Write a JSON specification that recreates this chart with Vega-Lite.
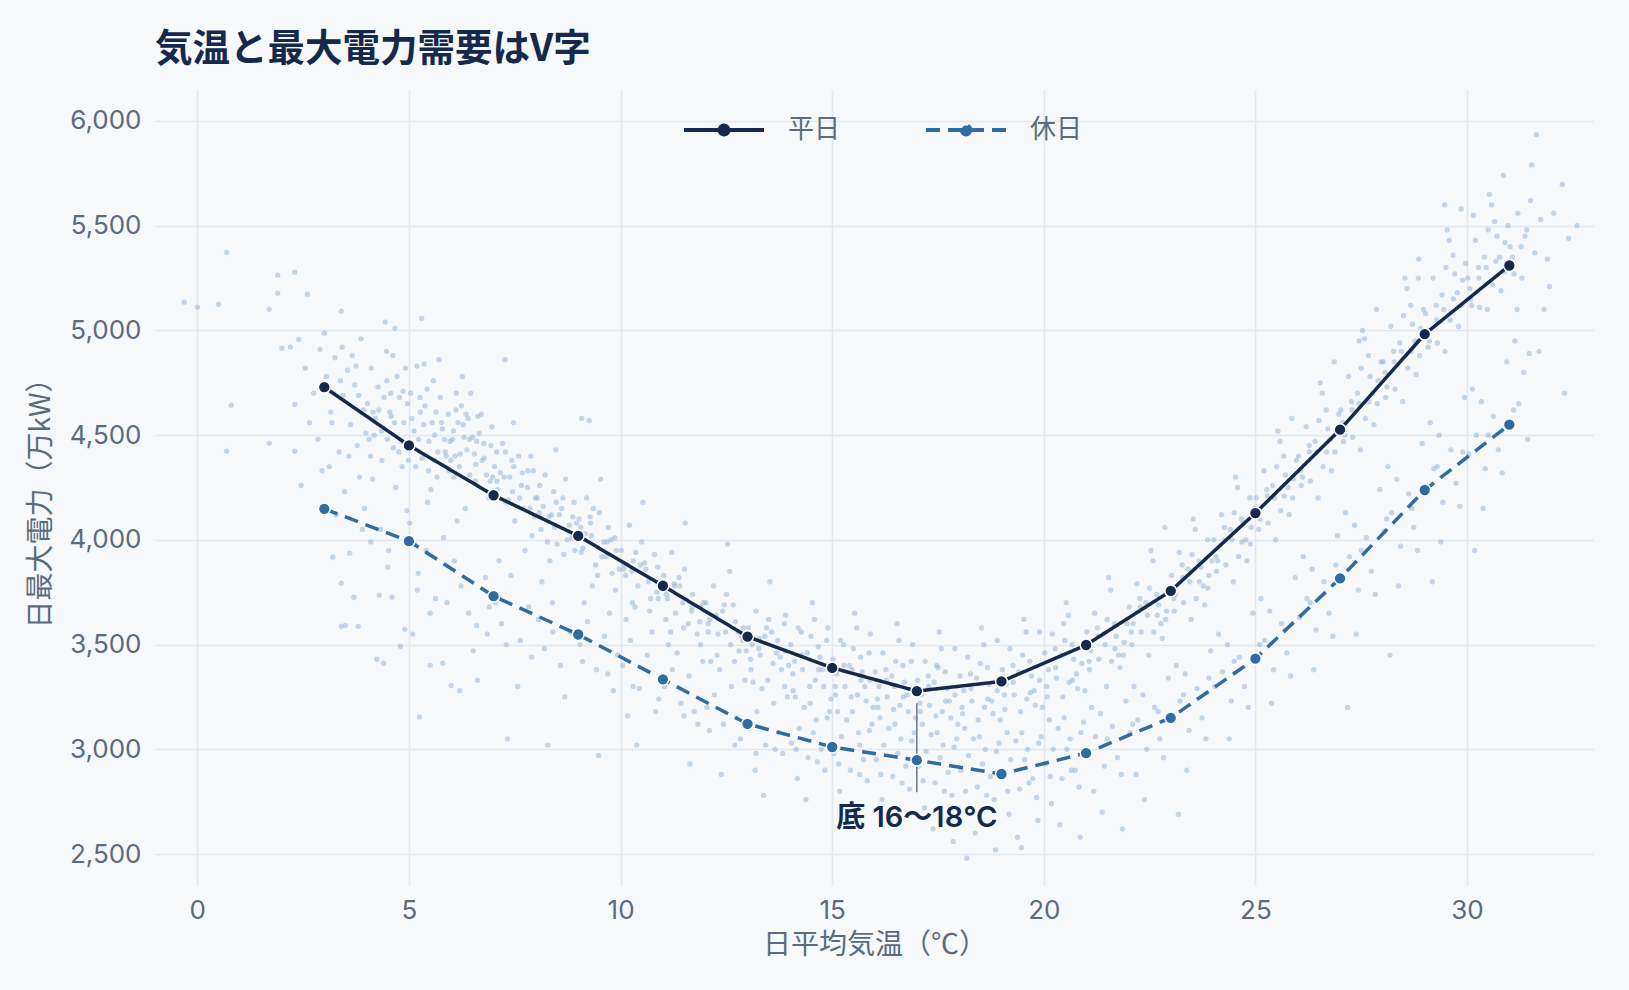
{
"$schema":"https://vega.github.io/schema/vega-lite/v6.json",
"width":1439,"height":795,
"autosize":{"type":"none"},
"padding":{"left":155,"top":90,"right":35,"bottom":105},
"background":"#f6f8fa",
"title":{"text":"気温と最大電力需要はV字","anchor":"start","frame":"group","fontSize":37.5,"fontWeight":"bold","font":"Noto Sans CJK JP","color":"#14294b","offset":20},
"config":{
"view":{"stroke":null},
"font":"Noto Sans CJK JP",
"axis":{"domain":false,"ticks":false,"gridColor":"#e4e8ee","gridWidth":1.5,"labelColor":"#5b6b7d","titleColor":"#5b6b7d","labelFontSize":26,"titleFontSize":28,"titleFontWeight":"normal","labelFont":"Inter","titleFont":"Noto Sans CJK JP"}
},
"datasets":{
"scatter":[
{"t":-0.31,"v":5135},{"t":0.0,"v":5111},{"t":0.5,"v":5125},{"t":0.69,"v":5373},{"t":0.8,"v":4643},{"t":0.69,"v":4423},{"t":1.7,"v":5101},{"t":1.9,"v":5264},{"t":1.9,"v":5178},{"t":2.3,"v":5278},{"t":2.6,"v":5173},{"t":1.7,"v":4461},{"t":2.3,"v":4647},{"t":2.3,"v":4423},{"t":2.0,"v":4915},{"t":2.2,"v":4920},{"t":2.4,"v":4957},{"t":2.55,"v":4820},{"t":2.75,"v":4700},{"t":2.85,"v":4480},{"t":2.45,"v":4260},{"t":2.9,"v":4910},{"t":2.65,"v":4560},{"t":2.95,"v":4330},
{"t":3.0,"v":4987},{"t":3.4,"v":5092},{"t":3.4,"v":3793},{"t":3.2,"v":3917},{"t":3.4,"v":3587},{"t":3.5,"v":3592},{"t":3.8,"v":3587},{"t":3.6,"v":3936},{"t":3.7,"v":3726},{"t":3.05,"v":4780},{"t":3.15,"v":4610},{"t":3.25,"v":4870},{"t":3.35,"v":4420},{"t":3.45,"v":4690},{"t":3.55,"v":4810},{"t":3.62,"v":4550},{"t":3.72,"v":4740},{"t":3.83,"v":4300},{"t":3.93,"v":4620},{"t":3.12,"v":4350},{"t":3.87,"v":4960},{"t":3.28,"v":4120},{"t":3.66,"v":4880},{"t":3.48,"v":4230},{"t":3.78,"v":4450},{"t":3.95,"v":4150},{"t":3.22,"v":4700},
{"t":4.44,"v":5040},{"t":4.3,"v":3735},{"t":4.6,"v":3726},{"t":4.8,"v":3492},{"t":4.4,"v":3411},{"t":4.9,"v":3573},{"t":4.02,"v":4650},{"t":4.11,"v":4820},{"t":4.18,"v":4500},{"t":4.27,"v":4730},{"t":4.36,"v":4380},{"t":4.47,"v":4900},{"t":4.55,"v":4610},{"t":4.63,"v":4440},{"t":4.72,"v":4780},{"t":4.88,"v":4560},{"t":4.14,"v":4290},{"t":4.33,"v":4050},{"t":4.52,"v":3950},{"t":4.95,"v":4140},{"t":4.24,"v":3430},{"t":4.41,"v":4680},{"t":4.67,"v":5010},{"t":4.84,"v":4350},{"t":4.06,"v":4480},{"t":4.58,"v":4590},{"t":4.78,"v":4680},{"t":4.92,"v":4820},{"t":4.21,"v":4580},{"t":4.69,"v":4250},{"t":4.48,"v":4760},{"t":4.82,"v":4470},
{"t":5.3,"v":5058},{"t":5.8,"v":3411},{"t":5.5,"v":3401},{"t":5.25,"v":3155},{"t":5.04,"v":4700},{"t":5.12,"v":4520},{"t":5.19,"v":4830},{"t":5.31,"v":4390},{"t":5.38,"v":4640},{"t":5.47,"v":4470},{"t":5.58,"v":4760},{"t":5.66,"v":4300},{"t":5.77,"v":4560},{"t":5.86,"v":4420},{"t":5.02,"v":4080},{"t":5.22,"v":3840},{"t":5.41,"v":3950},{"t":5.63,"v":3720},{"t":5.82,"v":4010},{"t":5.09,"v":3550},{"t":5.52,"v":4240},{"t":5.71,"v":4860},{"t":5.93,"v":4600},{"t":5.44,"v":4180},{"t":5.16,"v":4350},{"t":5.61,"v":4500},{"t":5.27,"v":4610},{"t":5.74,"v":4680},{"t":5.35,"v":4550},{"t":5.88,"v":4400},{"t":5.55,"v":4560},{"t":5.97,"v":4470},{"t":5.68,"v":4420},{"t":5.13,"v":3980},
{"t":6.0,"v":3304},{"t":6.2,"v":3280},{"t":6.03,"v":4480},{"t":6.11,"v":4620},{"t":6.19,"v":4350},{"t":6.28,"v":4550},{"t":6.37,"v":4430},{"t":6.46,"v":4700},{"t":6.57,"v":4280},{"t":6.66,"v":4510},{"t":6.78,"v":4390},{"t":6.89,"v":4200},{"t":6.07,"v":3900},{"t":6.23,"v":3780},{"t":6.41,"v":3650},{"t":6.62,"v":3330},{"t":6.81,"v":3820},{"t":6.14,"v":4090},{"t":6.33,"v":4150},{"t":6.52,"v":3470},{"t":6.71,"v":4600},{"t":6.94,"v":4450},{"t":6.26,"v":4780},{"t":6.44,"v":4310},{"t":6.6,"v":4470},{"t":6.85,"v":3550},{"t":6.16,"v":4560},{"t":6.5,"v":4490},{"t":6.73,"v":4380},{"t":6.35,"v":4600},{"t":6.09,"v":4400},{"t":6.55,"v":4410},{"t":6.98,"v":4300},{"t":6.3,"v":4490},
{"t":7.02,"v":4350},{"t":7.1,"v":4240},{"t":7.21,"v":4460},{"t":7.29,"v":4180},{"t":7.38,"v":4300},{"t":7.5,"v":4090},{"t":7.59,"v":4400},{"t":7.7,"v":4150},{"t":7.8,"v":4250},{"t":7.91,"v":4020},{"t":7.05,"v":3700},{"t":7.19,"v":3600},{"t":7.41,"v":3830},{"t":7.63,"v":3520},{"t":7.83,"v":3680},{"t":7.13,"v":3900},{"t":7.33,"v":3050},{"t":7.47,"v":4560},{"t":7.74,"v":3950},{"t":7.94,"v":4330},{"t":7.27,"v":4860},{"t":7.57,"v":3300},{"t":7.36,"v":4190},{"t":7.66,"v":4260},{"t":7.86,"v":4150},{"t":7.16,"v":4320},{"t":7.45,"v":4230},{"t":7.97,"v":4110},
{"t":8.03,"v":4200},{"t":8.12,"v":4050},{"t":8.22,"v":4310},{"t":8.31,"v":4110},{"t":8.42,"v":4230},{"t":8.5,"v":3980},{"t":8.61,"v":4150},{"t":8.7,"v":4290},{"t":8.79,"v":4070},{"t":8.92,"v":3950},{"t":8.06,"v":3620},{"t":8.2,"v":3480},{"t":8.39,"v":3700},{"t":8.58,"v":3400},{"t":8.81,"v":3560},{"t":8.14,"v":3800},{"t":8.33,"v":3900},{"t":8.47,"v":4430},{"t":8.68,"v":3250},{"t":8.9,"v":4180},{"t":8.28,"v":3020},{"t":8.55,"v":4120},{"t":8.74,"v":4000},{"t":8.96,"v":4080},{"t":8.17,"v":4160},{"t":8.44,"v":4060},
{"t":9.02,"v":4100},{"t":9.11,"v":3960},{"t":9.2,"v":4200},{"t":9.31,"v":4020},{"t":9.41,"v":3880},{"t":9.5,"v":4130},{"t":9.6,"v":3990},{"t":9.71,"v":4060},{"t":9.8,"v":3840},{"t":9.9,"v":3950},{"t":9.04,"v":3500},{"t":9.22,"v":3610},{"t":9.43,"v":3380},{"t":9.62,"v":3540},{"t":9.83,"v":3280},{"t":9.14,"v":3700},{"t":9.33,"v":3780},{"t":9.53,"v":4290},{"t":9.74,"v":3650},{"t":9.93,"v":3450},{"t":9.08,"v":4580},{"t":9.26,"v":4570},{"t":9.48,"v":2970},{"t":9.36,"v":4150},{"t":9.66,"v":3920},{"t":9.86,"v":4010},{"t":9.17,"v":4030},
{"t":10.02,"v":3950},{"t":10.12,"v":3830},{"t":10.21,"v":4070},{"t":10.3,"v":3900},{"t":10.41,"v":3780},{"t":10.5,"v":3990},{"t":10.6,"v":3860},{"t":10.71,"v":3720},{"t":10.8,"v":3930},{"t":10.9,"v":3800},{"t":10.05,"v":3400},{"t":10.23,"v":3520},{"t":10.44,"v":3290},{"t":10.63,"v":3450},{"t":10.83,"v":3180},{"t":10.13,"v":3620},{"t":10.34,"v":3680},{"t":10.53,"v":4180},{"t":10.74,"v":3560},{"t":10.94,"v":3350},{"t":10.38,"v":3020},{"t":10.17,"v":3160},{"t":10.57,"v":3890},{"t":10.86,"v":3750},{"t":10.27,"v":3850},
{"t":11.02,"v":3830},{"t":11.11,"v":3720},{"t":11.21,"v":3940},{"t":11.3,"v":3650},{"t":11.4,"v":3780},{"t":11.51,"v":3860},{"t":11.6,"v":3600},{"t":11.7,"v":3740},{"t":11.81,"v":3550},{"t":11.9,"v":3680},{"t":11.04,"v":3300},{"t":11.22,"v":3380},{"t":11.43,"v":3220},{"t":11.62,"v":3350},{"t":11.83,"v":3120},{"t":11.13,"v":3500},{"t":11.34,"v":3460},{"t":11.53,"v":4080},{"t":11.74,"v":3180},{"t":11.94,"v":3420},{"t":11.18,"v":3560},{"t":11.64,"v":2930},{"t":11.47,"v":3700},{"t":11.87,"v":3610},{"t":11.27,"v":3790},
{"t":12.02,"v":3700},{"t":12.11,"v":3620},{"t":12.2,"v":3780},{"t":12.3,"v":3550},{"t":12.41,"v":3660},{"t":12.5,"v":3740},{"t":12.6,"v":3500},{"t":12.71,"v":3610},{"t":12.8,"v":3470},{"t":12.9,"v":3580},{"t":12.04,"v":3200},{"t":12.22,"v":3260},{"t":12.43,"v":3120},{"t":12.62,"v":3300},{"t":12.83,"v":3050},{"t":12.13,"v":3420},{"t":12.34,"v":3380},{"t":12.53,"v":3980},{"t":12.74,"v":3150},{"t":12.94,"v":3330},{"t":12.38,"v":2880},{"t":12.58,"v":3850},{"t":12.26,"v":3640},{"t":12.86,"v":3540},{"t":12.66,"v":3690},
{"t":13.02,"v":3580},{"t":13.11,"v":3500},{"t":13.2,"v":3660},{"t":13.3,"v":3450},{"t":13.41,"v":3540},{"t":13.5,"v":3620},{"t":13.6,"v":3410},{"t":13.71,"v":3520},{"t":13.8,"v":3380},{"t":13.9,"v":3470},{"t":13.04,"v":3100},{"t":13.22,"v":3180},{"t":13.43,"v":3020},{"t":13.62,"v":3220},{"t":13.83,"v":2980},{"t":13.13,"v":3320},{"t":13.34,"v":3290},{"t":13.53,"v":3800},{"t":13.74,"v":3080},{"t":13.94,"v":3250},{"t":13.38,"v":2780},{"t":13.18,"v":2900},{"t":13.57,"v":3560},{"t":13.87,"v":3600},{"t":13.27,"v":3480},
{"t":14.02,"v":3500},{"t":14.11,"v":3420},{"t":14.2,"v":3580},{"t":14.3,"v":3380},{"t":14.41,"v":3460},{"t":14.5,"v":3540},{"t":14.6,"v":3330},{"t":14.71,"v":3440},{"t":14.8,"v":3300},{"t":14.9,"v":3400},{"t":14.04,"v":3030},{"t":14.22,"v":3100},{"t":14.43,"v":2960},{"t":14.62,"v":3140},{"t":14.83,"v":2900},{"t":14.13,"v":3250},{"t":14.34,"v":3200},{"t":14.53,"v":3700},{"t":14.74,"v":3000},{"t":14.94,"v":3180},{"t":14.38,"v":2760},{"t":14.58,"v":3620},{"t":14.18,"v":2860},{"t":14.67,"v":3490},{"t":14.87,"v":3520},{"t":14.27,"v":3560},
{"t":15.02,"v":3430},{"t":15.11,"v":3360},{"t":15.2,"v":3520},{"t":15.3,"v":3300},{"t":15.41,"v":3400},{"t":15.5,"v":3480},{"t":15.6,"v":3260},{"t":15.71,"v":3370},{"t":15.8,"v":3230},{"t":15.9,"v":3330},{"t":15.04,"v":2980},{"t":15.22,"v":3060},{"t":15.43,"v":2900},{"t":15.62,"v":3080},{"t":15.83,"v":2850},{"t":15.13,"v":3180},{"t":15.34,"v":3140},{"t":15.53,"v":3650},{"t":15.74,"v":2950},{"t":15.94,"v":3120},{"t":15.38,"v":2700},{"t":15.58,"v":3580},{"t":15.18,"v":2800},{"t":15.67,"v":3440},{"t":15.87,"v":3460},{"t":15.27,"v":3500},{"t":15.47,"v":3380},
{"t":16.02,"v":3370},{"t":16.11,"v":3300},{"t":16.2,"v":3460},{"t":16.3,"v":3250},{"t":16.41,"v":3350},{"t":16.5,"v":3420},{"t":16.6,"v":3210},{"t":16.71,"v":3320},{"t":16.8,"v":3180},{"t":16.9,"v":3290},{"t":16.04,"v":2950},{"t":16.22,"v":3020},{"t":16.43,"v":2870},{"t":16.62,"v":3050},{"t":16.83,"v":2810},{"t":16.13,"v":3150},{"t":16.34,"v":3100},{"t":16.53,"v":3600},{"t":16.74,"v":2920},{"t":16.94,"v":3080},{"t":16.38,"v":2650},{"t":16.58,"v":3520},{"t":16.18,"v":2760},{"t":16.67,"v":3400},{"t":16.87,"v":3420},{"t":16.27,"v":3380},{"t":16.47,"v":3300},
{"t":17.02,"v":3330},{"t":17.11,"v":3260},{"t":17.2,"v":3420},{"t":17.3,"v":3210},{"t":17.41,"v":3320},{"t":17.5,"v":3390},{"t":17.6,"v":3180},{"t":17.71,"v":3290},{"t":17.8,"v":3150},{"t":17.9,"v":3260},{"t":17.04,"v":2920},{"t":17.22,"v":2990},{"t":17.43,"v":2840},{"t":17.62,"v":3020},{"t":17.83,"v":2780},{"t":17.13,"v":3120},{"t":17.34,"v":3070},{"t":17.53,"v":3560},{"t":17.74,"v":2890},{"t":17.94,"v":3050},{"t":17.38,"v":2620},{"t":17.58,"v":3480},{"t":17.86,"v":2560},{"t":17.18,"v":2720},{"t":17.67,"v":3370},{"t":17.47,"v":3400},{"t":17.27,"v":3350},
{"t":18.02,"v":3350},{"t":18.11,"v":3280},{"t":18.2,"v":3440},{"t":18.3,"v":3230},{"t":18.41,"v":3340},{"t":18.5,"v":3410},{"t":18.6,"v":3200},{"t":18.71,"v":3310},{"t":18.8,"v":3170},{"t":18.9,"v":3280},{"t":18.04,"v":2900},{"t":18.22,"v":2970},{"t":18.43,"v":2820},{"t":18.62,"v":3000},{"t":18.83,"v":2760},{"t":18.13,"v":3100},{"t":18.34,"v":3050},{"t":18.53,"v":3580},{"t":18.74,"v":2870},{"t":18.94,"v":3030},{"t":18.38,"v":2600},{"t":18.58,"v":3500},{"t":18.86,"v":2520},{"t":18.18,"v":2480},{"t":18.48,"v":2680},{"t":18.67,"v":3390},{"t":18.27,"v":3360},
{"t":19.02,"v":3380},{"t":19.11,"v":3310},{"t":19.2,"v":3480},{"t":19.3,"v":3260},{"t":19.41,"v":3370},{"t":19.5,"v":3450},{"t":19.6,"v":3240},{"t":19.71,"v":3350},{"t":19.8,"v":3210},{"t":19.9,"v":3330},{"t":19.04,"v":2880},{"t":19.22,"v":2950},{"t":19.43,"v":2810},{"t":19.62,"v":3000},{"t":19.83,"v":2770},{"t":19.13,"v":3080},{"t":19.34,"v":3040},{"t":19.53,"v":3620},{"t":19.74,"v":2860},{"t":19.94,"v":3060},{"t":19.38,"v":2580},{"t":19.58,"v":3560},{"t":19.18,"v":2690},{"t":19.86,"v":2660},{"t":19.67,"v":3420},{"t":19.27,"v":3400},{"t":19.47,"v":2530},
{"t":20.02,"v":3460},{"t":20.11,"v":3380},{"t":20.2,"v":3550},{"t":20.3,"v":3340},{"t":20.41,"v":3450},{"t":20.5,"v":3520},{"t":20.6,"v":3320},{"t":20.71,"v":3430},{"t":20.8,"v":3290},{"t":20.9,"v":3410},{"t":20.04,"v":2930},{"t":20.22,"v":3000},{"t":20.43,"v":2860},{"t":20.62,"v":3050},{"t":20.83,"v":2820},{"t":20.13,"v":3140},{"t":20.34,"v":3100},{"t":20.53,"v":3700},{"t":20.74,"v":2900},{"t":20.94,"v":3130},{"t":20.38,"v":2640},{"t":20.58,"v":3640},{"t":20.18,"v":2740},{"t":20.86,"v":2580},{"t":20.67,"v":3500},{"t":20.27,"v":3480},{"t":20.47,"v":3600},
{"t":21.02,"v":3560},{"t":21.11,"v":3470},{"t":21.2,"v":3650},{"t":21.3,"v":3430},{"t":21.41,"v":3550},{"t":21.5,"v":3620},{"t":21.6,"v":3420},{"t":21.71,"v":3540},{"t":21.8,"v":3390},{"t":21.9,"v":3510},{"t":21.04,"v":2990},{"t":21.22,"v":3060},{"t":21.43,"v":2920},{"t":21.62,"v":3110},{"t":21.83,"v":2880},{"t":21.13,"v":3200},{"t":21.34,"v":3170},{"t":21.53,"v":3820},{"t":21.74,"v":2960},{"t":21.94,"v":3230},{"t":21.38,"v":2700},{"t":21.58,"v":3760},{"t":21.18,"v":2800},{"t":21.86,"v":2620},{"t":21.67,"v":3600},{"t":21.27,"v":3580},
{"t":22.02,"v":3680},{"t":22.11,"v":3600},{"t":22.2,"v":3790},{"t":22.3,"v":3560},{"t":22.41,"v":3700},{"t":22.5,"v":3770},{"t":22.6,"v":3560},{"t":22.71,"v":3690},{"t":22.8,"v":3530},{"t":22.9,"v":3660},{"t":22.04,"v":3080},{"t":22.22,"v":3140},{"t":22.43,"v":3000},{"t":22.62,"v":3200},{"t":22.83,"v":2960},{"t":22.13,"v":3300},{"t":22.34,"v":3260},{"t":22.53,"v":3950},{"t":22.74,"v":3050},{"t":22.94,"v":3340},{"t":22.38,"v":2760},{"t":22.58,"v":3900},{"t":22.18,"v":2880},{"t":22.86,"v":4060},{"t":22.67,"v":3740},{"t":22.27,"v":3720},
{"t":23.02,"v":3830},{"t":23.11,"v":3740},{"t":23.2,"v":3940},{"t":23.3,"v":3700},{"t":23.41,"v":3860},{"t":23.5,"v":3930},{"t":23.6,"v":3720},{"t":23.71,"v":3870},{"t":23.8,"v":3690},{"t":23.9,"v":3830},{"t":23.04,"v":3160},{"t":23.22,"v":3230},{"t":23.43,"v":3090},{"t":23.62,"v":3290},{"t":23.83,"v":3050},{"t":23.13,"v":3400},{"t":23.34,"v":3360},{"t":23.53,"v":4100},{"t":23.74,"v":3150},{"t":23.94,"v":3470},{"t":23.38,"v":2900},{"t":23.58,"v":4050},{"t":23.18,"v":2690},{"t":23.67,"v":3900},{"t":23.27,"v":3880},{"t":23.87,"v":4000},
{"t":24.02,"v":4000},{"t":24.11,"v":3900},{"t":24.2,"v":4120},{"t":24.3,"v":3880},{"t":24.41,"v":4050},{"t":24.5,"v":4130},{"t":24.6,"v":3920},{"t":24.71,"v":4080},{"t":24.8,"v":3900},{"t":24.9,"v":4060},{"t":24.04,"v":3300},{"t":24.22,"v":3370},{"t":24.43,"v":3230},{"t":24.62,"v":3440},{"t":24.83,"v":3200},{"t":24.13,"v":3550},{"t":24.34,"v":3500},{"t":24.53,"v":4300},{"t":24.74,"v":3300},{"t":24.94,"v":3650},{"t":24.38,"v":3050},{"t":24.58,"v":4250},{"t":24.67,"v":4100},{"t":24.27,"v":4060},{"t":24.87,"v":4200},
{"t":25.02,"v":4200},{"t":25.11,"v":4100},{"t":25.2,"v":4330},{"t":25.3,"v":4080},{"t":25.41,"v":4260},{"t":25.5,"v":4350},{"t":25.6,"v":4140},{"t":25.71,"v":4310},{"t":25.8,"v":4120},{"t":25.9,"v":4290},{"t":25.04,"v":3440},{"t":25.22,"v":3520},{"t":25.43,"v":3380},{"t":25.62,"v":3600},{"t":25.83,"v":3350},{"t":25.13,"v":3720},{"t":25.34,"v":3660},{"t":25.53,"v":4520},{"t":25.74,"v":3460},{"t":25.94,"v":3820},{"t":25.38,"v":3220},{"t":25.58,"v":4470},{"t":25.86,"v":4580},{"t":25.27,"v":4240},{"t":25.67,"v":4400},
{"t":26.02,"v":4400},{"t":26.11,"v":4300},{"t":26.2,"v":4540},{"t":26.3,"v":4280},{"t":26.41,"v":4470},{"t":26.5,"v":4570},{"t":26.6,"v":4350},{"t":26.71,"v":4530},{"t":26.8,"v":4330},{"t":26.9,"v":4510},{"t":26.04,"v":3630},{"t":26.22,"v":3720},{"t":26.43,"v":3570},{"t":26.62,"v":3800},{"t":26.83,"v":3540},{"t":26.13,"v":3920},{"t":26.34,"v":3860},{"t":26.53,"v":4750},{"t":26.74,"v":3650},{"t":26.94,"v":4020},{"t":26.38,"v":3380},{"t":26.58,"v":4700},{"t":26.86,"v":4850},{"t":26.27,"v":4450},{"t":26.67,"v":4620},
{"t":27.02,"v":4620},{"t":27.11,"v":4500},{"t":27.2,"v":4780},{"t":27.3,"v":4490},{"t":27.41,"v":4700},{"t":27.5,"v":4820},{"t":27.6,"v":4580},{"t":27.71,"v":4780},{"t":27.8,"v":4550},{"t":27.9,"v":4760},{"t":27.04,"v":3830},{"t":27.22,"v":3920},{"t":27.43,"v":3760},{"t":27.62,"v":4010},{"t":27.83,"v":3740},{"t":27.13,"v":4130},{"t":27.34,"v":4070},{"t":27.53,"v":5000},{"t":27.74,"v":3850},{"t":27.94,"v":4240},{"t":27.38,"v":3550},{"t":27.58,"v":4960},{"t":27.86,"v":5100},{"t":27.18,"v":3200},{"t":27.27,"v":4660},{"t":27.67,"v":4880},
{"t":28.02,"v":4850},{"t":28.11,"v":4730},{"t":28.2,"v":5020},{"t":28.3,"v":4720},{"t":28.41,"v":4940},{"t":28.5,"v":5070},{"t":28.6,"v":4820},{"t":28.71,"v":5030},{"t":28.8,"v":4790},{"t":28.9,"v":5010},{"t":28.04,"v":4040},{"t":28.22,"v":4130},{"t":28.43,"v":3970},{"t":28.62,"v":4220},{"t":28.83,"v":3950},{"t":28.13,"v":4350},{"t":28.34,"v":4290},{"t":28.53,"v":5250},{"t":28.74,"v":4060},{"t":28.94,"v":4460},{"t":28.38,"v":3780},{"t":28.58,"v":5200},{"t":28.86,"v":5340},{"t":28.18,"v":3450},{"t":28.27,"v":4900},{"t":28.67,"v":5120},
{"t":29.02,"v":5080},{"t":29.11,"v":4950},{"t":29.2,"v":5250},{"t":29.3,"v":4940},{"t":29.41,"v":5170},{"t":29.5,"v":5300},{"t":29.6,"v":5050},{"t":29.71,"v":5270},{"t":29.8,"v":5020},{"t":29.9,"v":5240},{"t":29.04,"v":4250},{"t":29.22,"v":4340},{"t":29.43,"v":4180},{"t":29.62,"v":4430},{"t":29.83,"v":4160},{"t":29.13,"v":4560},{"t":29.34,"v":4500},{"t":29.53,"v":5480},{"t":29.74,"v":4270},{"t":29.94,"v":4680},{"t":29.38,"v":3990},{"t":29.58,"v":5430},{"t":29.86,"v":5580},{"t":29.18,"v":3800},{"t":29.27,"v":5120},{"t":29.67,"v":5360},
{"t":30.02,"v":5250},{"t":30.11,"v":5120},{"t":30.2,"v":5430},{"t":30.3,"v":5110},{"t":30.41,"v":5350},{"t":30.5,"v":5480},{"t":30.6,"v":5220},{"t":30.71,"v":5450},{"t":30.8,"v":5190},{"t":30.9,"v":5420},{"t":30.04,"v":4410},{"t":30.22,"v":4500},{"t":30.43,"v":4340},{"t":30.62,"v":4590},{"t":30.83,"v":4320},{"t":30.13,"v":4720},{"t":30.34,"v":4660},{"t":30.53,"v":5650},{"t":30.74,"v":4430},{"t":30.94,"v":4850},{"t":30.38,"v":4150},{"t":30.58,"v":5600},{"t":30.86,"v":5740},{"t":30.18,"v":3950},{"t":30.27,"v":5300},
{"t":31.02,"v":5400},{"t":31.11,"v":5270},{"t":31.2,"v":5560},{"t":31.3,"v":5250},{"t":31.41,"v":5480},{"t":31.5,"v":5620},{"t":31.04,"v":4560},{"t":31.22,"v":4650},{"t":31.43,"v":4480},{"t":31.34,"v":4800},{"t":31.13,"v":4950},{"t":31.53,"v":5790},{"t":31.18,"v":5100},{"t":31.6,"v":5370},{"t":31.47,"v":4890},{"t":31.64,"v":5935},{"t":31.74,"v":5530},{"t":31.82,"v":5100},{"t":32.25,"v":5697},{"t":31.9,"v":5340},{"t":32.05,"v":5560},{"t":32.4,"v":5440},{"t":32.6,"v":5500},{"t":31.95,"v":5210},{"t":32.3,"v":4700},{"t":31.7,"v":4900},
{"t":4.15,"v":4610},{"t":4.35,"v":4520},{"t":4.57,"v":4700},{"t":4.76,"v":4420},{"t":4.97,"v":4650},{"t":5.07,"v":4580},{"t":5.23,"v":4480},{"t":5.43,"v":4720},{"t":5.6,"v":4380},{"t":5.79,"v":4530},{"t":5.95,"v":4330},{"t":6.05,"v":4520},{"t":6.21,"v":4410},{"t":6.4,"v":4580},{"t":6.58,"v":4360},{"t":6.77,"v":4460},{"t":6.92,"v":4280},{"t":7.07,"v":4420},{"t":7.25,"v":4300},{"t":7.43,"v":4380},{"t":7.62,"v":4200},{"t":7.81,"v":4330},{"t":7.99,"v":4200},{"t":6.12,"v":4700},{"t":5.36,"v":4840},{"t":4.62,"v":4880},{"t":3.75,"v":4830},{"t":3.42,"v":4920},
{"t":8.09,"v":4260},{"t":8.37,"v":4120},{"t":8.64,"v":4200},{"t":8.85,"v":4010},{"t":9.06,"v":4060},{"t":9.28,"v":4110},{"t":9.56,"v":3920},{"t":9.77,"v":4000},{"t":9.97,"v":3860},{"t":10.08,"v":3880},{"t":10.36,"v":3940},{"t":10.66,"v":3800},{"t":10.88,"v":3870},{"t":11.08,"v":3740},{"t":11.38,"v":3820},{"t":11.68,"v":3660},{"t":11.96,"v":3700},{"t":12.07,"v":3560},{"t":12.45,"v":3690},{"t":12.78,"v":3560},{"t":12.97,"v":3470},{"t":13.07,"v":3430},{"t":13.45,"v":3580},{"t":13.77,"v":3440},{"t":13.97,"v":3400},
{"t":14.07,"v":3360},{"t":14.47,"v":3300},{"t":14.77,"v":3380},{"t":14.97,"v":3240},{"t":15.07,"v":3300},{"t":15.45,"v":3250},{"t":15.77,"v":3300},{"t":15.97,"v":3200},{"t":16.07,"v":3240},{"t":16.45,"v":3190},{"t":16.77,"v":3260},{"t":16.97,"v":3150},{"t":17.07,"v":3220},{"t":17.45,"v":3160},{"t":17.77,"v":3230},{"t":17.97,"v":3120},{"t":18.07,"v":3200},{"t":18.45,"v":3140},{"t":18.77,"v":3230},{"t":18.97,"v":3140},{"t":19.07,"v":3260},{"t":19.45,"v":3180},{"t":19.77,"v":3280},{"t":19.97,"v":3200},{"t":20.07,"v":3300},{"t":20.45,"v":3250},{"t":20.77,"v":3360},{"t":20.97,"v":3280},{"t":14.55,"v":3080},{"t":15.65,"v":3020},{"t":16.55,"v":2980},{"t":17.55,"v":2960},{"t":18.55,"v":2930},{"t":19.55,"v":2950},{"t":20.55,"v":3000},
{"t":21.07,"v":3420},{"t":21.45,"v":3500},{"t":21.77,"v":3450},{"t":21.97,"v":3600},{"t":22.07,"v":3560},{"t":22.45,"v":3640},{"t":22.77,"v":3600},{"t":22.97,"v":3760},{"t":23.07,"v":3720},{"t":23.45,"v":3800},{"t":23.77,"v":3780},{"t":23.97,"v":3900},{"t":24.07,"v":3920},{"t":24.45,"v":4000},{"t":24.77,"v":4000},{"t":24.97,"v":4150},{"t":25.07,"v":4120},{"t":25.45,"v":4200},{"t":25.77,"v":4250},{"t":25.97,"v":4380},{"t":26.07,"v":4330},{"t":26.45,"v":4420},{"t":26.77,"v":4480},{"t":26.97,"v":4600},{"t":27.07,"v":4560},{"t":27.45,"v":4650},{"t":27.77,"v":4700},{"t":27.97,"v":4850},{"t":28.07,"v":4800},{"t":28.45,"v":4900},{"t":28.77,"v":4950},{"t":28.97,"v":5100},{"t":29.07,"v":5000},{"t":29.45,"v":5100},{"t":29.77,"v":5180},{"t":29.97,"v":5320},{"t":30.07,"v":5200},{"t":30.45,"v":5300},{"t":30.77,"v":5350},{"t":30.97,"v":5500},{"t":31.07,"v":5350},{"t":31.37,"v":5450},{"t":29.47,"v":5600},{"t":30.15,"v":5550},{"t":30.65,"v":5520},{"t":28.85,"v":5250},{"t":27.45,"v":4950},
{"t":3.18,"v":4560},{"t":3.38,"v":4760},{"t":3.58,"v":4400},{"t":3.81,"v":4690},{"t":3.98,"v":4510},{"t":4.09,"v":4400},{"t":4.29,"v":4620},{"t":4.49,"v":4480},{"t":4.66,"v":4560},{"t":4.86,"v":4710},{"t":4.99,"v":4380},{"t":5.06,"v":4450},{"t":5.26,"v":4680},{"t":5.46,"v":4330},{"t":5.64,"v":4610},{"t":5.84,"v":4480},{"t":5.99,"v":4380},{"t":6.06,"v":4300},{"t":6.24,"v":4640},{"t":6.43,"v":4480},{"t":6.63,"v":4590},{"t":6.83,"v":4310},{"t":6.96,"v":4540},{"t":7.08,"v":4280},{"t":7.28,"v":4420},{"t":7.48,"v":4350},{"t":7.68,"v":4320},{"t":7.88,"v":4400},
{"t":3.9,"v":4050},{"t":4.5,"v":3870},{"t":5.2,"v":3760},{"t":5.9,"v":3700},{"t":6.6,"v":3590},{"t":7.3,"v":3500},{"t":7.9,"v":3440},{"t":4.1,"v":3990},{"t":5.5,"v":3650},{"t":6.9,"v":3680},
{"t":8.08,"v":4130},{"t":8.27,"v":3990},{"t":8.48,"v":4180},{"t":8.66,"v":3930},{"t":8.87,"v":4110},{"t":9.07,"v":3940},{"t":9.29,"v":4080},{"t":9.46,"v":3830},{"t":9.68,"v":3990},{"t":9.88,"v":3760},{"t":10.07,"v":3860},{"t":10.28,"v":3700},{"t":10.47,"v":3880},{"t":10.69,"v":3660},{"t":10.89,"v":3720},{"t":11.07,"v":3620},{"t":11.28,"v":3780},{"t":11.49,"v":3580},{"t":11.69,"v":3680},{"t":11.89,"v":3500},{"t":12.07,"v":3600},{"t":12.28,"v":3450},{"t":12.48,"v":3560},{"t":12.69,"v":3420},{"t":12.89,"v":3520},
{"t":8.4,"v":3560},{"t":9.1,"v":3420},{"t":9.7,"v":3360},{"t":10.3,"v":3300},{"t":10.9,"v":3240},{"t":11.5,"v":3160},{"t":12.1,"v":3090},{"t":12.7,"v":3020},{"t":13.2,"v":2980},
{"t":13.08,"v":3380},{"t":13.28,"v":3530},{"t":13.48,"v":3330},{"t":13.68,"v":3460},{"t":13.88,"v":3300},{"t":14.08,"v":3280},{"t":14.28,"v":3450},{"t":14.48,"v":3220},{"t":14.68,"v":3380},{"t":14.88,"v":3150},{"t":15.08,"v":3260},{"t":15.28,"v":3400},{"t":15.48,"v":3180},{"t":15.68,"v":3330},{"t":15.88,"v":3090},{"t":16.08,"v":3200},{"t":16.28,"v":3330},{"t":16.48,"v":3120},{"t":16.68,"v":3250},{"t":16.88,"v":3040},{"t":17.08,"v":3180},{"t":17.28,"v":3300},{"t":17.48,"v":3080},{"t":17.68,"v":3230},{"t":17.88,"v":3010},{"t":18.08,"v":3170},{"t":18.28,"v":3290},{"t":18.48,"v":3060},{"t":18.68,"v":3240},{"t":18.88,"v":2990},{"t":19.08,"v":3190},{"t":19.28,"v":3320},{"t":19.48,"v":3080},{"t":19.68,"v":3270},{"t":19.88,"v":3030},{"t":20.08,"v":3250},{"t":20.28,"v":3390},{"t":20.48,"v":3150},{"t":20.68,"v":3330},{"t":20.88,"v":3080},
{"t":14.15,"v":3000},{"t":14.65,"v":2940},{"t":15.15,"v":2930},{"t":15.65,"v":2880},{"t":16.15,"v":2880},{"t":16.65,"v":2840},{"t":17.15,"v":2850},{"t":17.65,"v":2800},{"t":18.15,"v":2800},{"t":18.65,"v":2780},{"t":19.15,"v":2800},{"t":19.65,"v":2840},{"t":20.15,"v":2870},{"t":20.65,"v":2900},{"t":13.65,"v":3000},{"t":15.9,"v":3550},{"t":16.9,"v":3500},{"t":17.9,"v":3480},{"t":18.9,"v":3520},{"t":19.9,"v":3560},{"t":14.9,"v":3580},{"t":13.9,"v":3640},
{"t":21.08,"v":3380},{"t":21.28,"v":3540},{"t":21.48,"v":3300},{"t":21.68,"v":3480},{"t":21.88,"v":3450},{"t":22.08,"v":3500},{"t":22.28,"v":3680},{"t":22.48,"v":3450},{"t":22.68,"v":3640},{"t":22.88,"v":3620},{"t":23.08,"v":3660},{"t":23.28,"v":3820},{"t":23.48,"v":3620},{"t":23.68,"v":3800},{"t":23.88,"v":3770},{"t":24.08,"v":3850},{"t":24.28,"v":4000},{"t":24.48,"v":3800},{"t":24.68,"v":3990},{"t":24.88,"v":3980},{"t":25.08,"v":4050},{"t":25.28,"v":4210},{"t":25.48,"v":4000},{"t":25.68,"v":4210},{"t":25.88,"v":4200},
{"t":21.5,"v":3050},{"t":22.1,"v":3120},{"t":22.7,"v":3180},{"t":23.3,"v":3260},{"t":23.9,"v":3340},{"t":24.5,"v":3420},{"t":25.1,"v":3500},{"t":25.7,"v":3570},
{"t":26.08,"v":4260},{"t":26.28,"v":4420},{"t":26.48,"v":4200},{"t":26.68,"v":4420},{"t":26.88,"v":4420},{"t":27.08,"v":4470},{"t":27.28,"v":4620},{"t":27.48,"v":4430},{"t":27.68,"v":4660},{"t":27.88,"v":4650},{"t":28.08,"v":4680},{"t":28.28,"v":4850},{"t":28.48,"v":4660},{"t":28.68,"v":4900},{"t":28.88,"v":4880},{"t":29.08,"v":4920},{"t":29.28,"v":5050},{"t":29.48,"v":4900},{"t":29.68,"v":5150},{"t":29.88,"v":5120},{"t":30.08,"v":5150},{"t":30.28,"v":5250},{"t":30.48,"v":5100},{"t":30.68,"v":5330},{"t":30.88,"v":5280},{"t":31.08,"v":5300},{"t":31.28,"v":5400},
{"t":26.3,"v":3700},{"t":26.9,"v":3880},{"t":27.5,"v":3950},{"t":28.1,"v":4100},{"t":28.7,"v":4150},{"t":29.3,"v":4350},{"t":29.9,"v":4420},{"t":30.5,"v":4500},{"t":31.1,"v":4620}
],
"lines":[
{"t":3,"v":4729,"s":"平日"},{"t":5,"v":4451,"s":"平日"},{"t":7,"v":4213,"s":"平日"},{"t":9,"v":4019,"s":"平日"},{"t":11,"v":3781,"s":"平日"},{"t":13,"v":3538,"s":"平日"},{"t":15,"v":3389,"s":"平日"},{"t":17,"v":3278,"s":"平日"},{"t":19,"v":3324,"s":"平日"},{"t":21,"v":3498,"s":"平日"},{"t":23,"v":3756,"s":"平日"},{"t":25,"v":4128,"s":"平日"},{"t":27,"v":4526,"s":"平日"},{"t":29,"v":4982,"s":"平日"},{"t":31,"v":5310,"s":"平日"},
{"t":3,"v":4148,"s":"休日"},{"t":5,"v":3994,"s":"休日"},{"t":7,"v":3731,"s":"休日"},{"t":9,"v":3548,"s":"休日"},{"t":11,"v":3334,"s":"休日"},{"t":13,"v":3121,"s":"休日"},{"t":15,"v":3011,"s":"休日"},{"t":17,"v":2948,"s":"休日"},{"t":19,"v":2882,"s":"休日"},{"t":21,"v":2982,"s":"休日"},{"t":23,"v":3150,"s":"休日"},{"t":25,"v":3433,"s":"休日"},{"t":27,"v":3816,"s":"休日"},{"t":29,"v":4238,"s":"休日"},{"t":31,"v":4550,"s":"休日"}
],
"annot":[{"t":17,"v1":3220,"v2":2795,"ly":2672,"label":"底 16〜18℃"}]
},
"encoding":{
"x":{"field":"t","type":"quantitative","scale":{"domain":[-1,33],"nice":false,"zero":false},"axis":{"title":"日平均気温（℃）","values":[0,5,10,15,20,25,30],"labelPadding":12,"titlePadding":8}},
"y":{"field":"v","type":"quantitative","scale":{"domain":[2352,6148],"nice":false,"zero":false},"axis":{"title":"日最大電力（万kW）","values":[2500,3000,3500,4000,4500,5000,5500,6000],"format":",d","labelPadding":14,"titlePadding":14,"titleY":406}}
},
"layer":[
{"data":{"name":"scatter"},"mark":{"type":"circle","size":28,"color":"#8eb0d2","opacity":0.5}},
{"data":{"name":"annot"},"mark":{"type":"rule","color":"#6b7785","strokeWidth":1.5},"encoding":{"y":{"field":"v1","type":"quantitative"},"y2":{"field":"v2"}}},
{"data":{"name":"lines"},"mark":{"type":"line","strokeWidth":3.5},
"encoding":{
"color":{"field":"s","type":"nominal","scale":{"domain":["平日","休日"],"range":["#14294b","#2e6ca3"]},
"legend":{"orient":"none","legendX":527,"legendY":-2,"direction":"horizontal","title":null,"padding":0,"symbolType":"M-1,0L1,0M0.11,0A0.11,0.11,0,1,1,-0.11,0A0.11,0.11,0,1,1,0.11,0Z","symbolSize":6400,"symbolStrokeWidth":4,"labelFontSize":26,"labelColor":"#5b6b7d","labelFont":"Noto Sans CJK JP","labelOffset":22,"columnPadding":77,"encode":{"symbols":{"update":{"fill":{"scale":"color","field":"value"}}}}}},
"strokeDash":{"field":"s","type":"nominal","scale":{"domain":["平日","休日"],"range":[[1,0],[14,8]]},
"legend":{"orient":"none","legendX":527,"legendY":-2,"direction":"horizontal","title":null,"padding":0,"symbolType":"M-1,0L1,0M0.11,0A0.11,0.11,0,1,1,-0.11,0A0.11,0.11,0,1,1,0.11,0Z","symbolSize":6400,"symbolStrokeWidth":4,"labelFontSize":26,"labelColor":"#5b6b7d","labelFont":"Noto Sans CJK JP","labelOffset":22,"columnPadding":77,"encode":{"symbols":{"update":{"fill":{"scale":"color","field":"value"}}}}}}
}},
{"data":{"name":"lines"},"mark":{"type":"circle","size":140,"opacity":1,"stroke":"white","strokeWidth":1.5},
"encoding":{"color":{"field":"s","type":"nominal","legend":null}}},
{"data":{"name":"annot"},"mark":{"type":"text","fontSize":29,"fontWeight":600,"color":"#14294b","align":"center","baseline":"middle","font":"Inter, Noto Sans CJK JP"},"encoding":{"y":{"field":"ly","type":"quantitative"},"text":{"field":"label"}}}
]
}
